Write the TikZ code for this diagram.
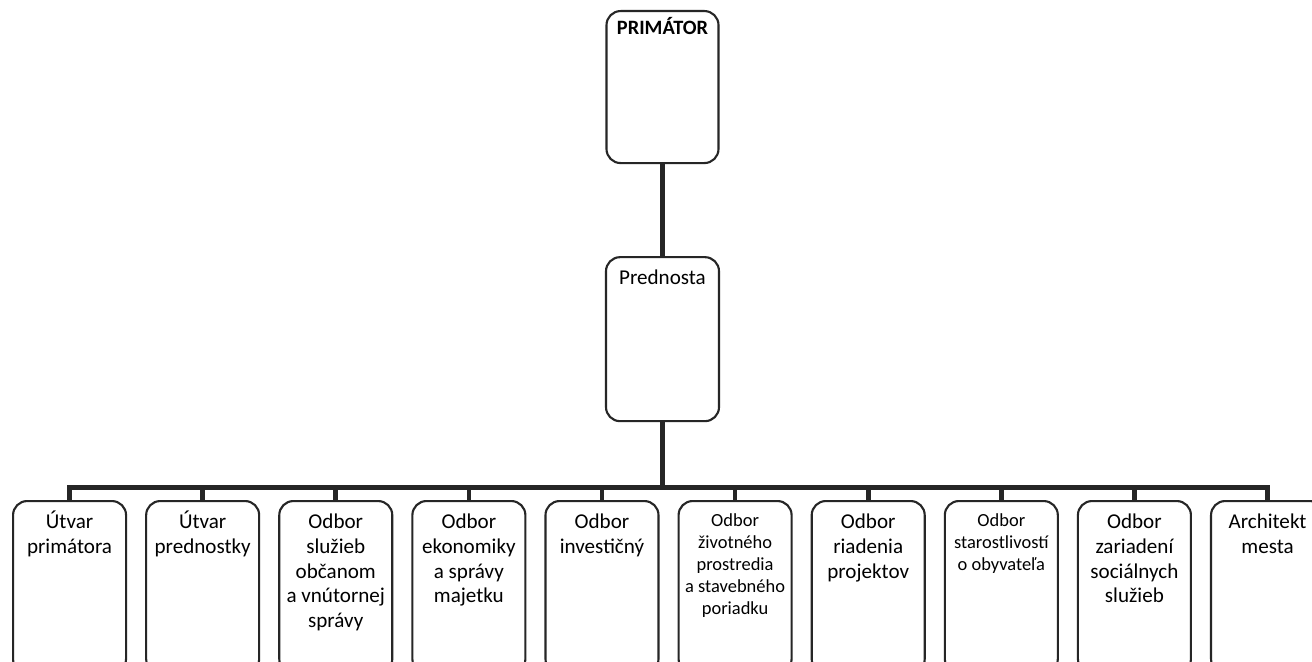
\documentclass[tikz,border=0pt]{standalone}
\usepackage{fontspec}
\setmainfont{Carlito}
\usetikzlibrary{positioning}
\tikzstyle{obox}=[rectangle, rounded corners=8pt, draw=black!85, fill=white, line width=1.2pt, inner sep=0pt, minimum width=22.6mm, minimum height=34.4mm]
\tikzstyle{hbox}=[rectangle, rounded corners=8pt, draw=black!85, fill=white, line width=1.2pt, inner sep=0pt, minimum width=22.4mm]
\tikzstyle{txt}=[below, inner sep=3pt, text width=24mm, align=flush center, font=\fontsize{12}{14.1}\selectfont, execute at begin node={\rule{0pt}{13pt}}]
\tikzstyle{stxt}=[below, inner sep=3pt, text width=24mm, align=flush center, font=\fontsize{10.5}{12.5}\selectfont, execute at begin node={\rule{0pt}{11.7pt}}]
\tikzstyle{pline}=[-, line width=2.6pt, black!85]

\begin{document}
\begin{tikzpicture}[node distance=3.6mm]
\path[use as bounding box, fill=white] (0,0) rectangle (26.24,-13.22);
\node (PRIM) [hbox, minimum height=30.4mm, anchor=north] at (13.25,-0.2) {};
\node (PRIMt) [below, inner sep=3pt, font=\fontsize{11.6}{13.5}\selectfont\bfseries] at (PRIM.north) {\rule{0pt}{10.6pt}PRIMÁTOR};
\node (PREDN) [hbox, minimum width=22.6mm, minimum height=32.8mm, below=18.4mm of PRIM] {};
\node (PREDNt) [txt] at (PREDN.north) {Prednosta};
\node (UPRIM) [obox, anchor=north west] at (0.24,-10.0) {};
\node (UPRIMt) [txt] at (UPRIM.north) {Útvar\\primátora};
\node (UPRED) [obox, right=of UPRIM] {};
\node (UPREDt) [txt] at (UPRED.north) {Útvar\\prednostky};
\node (OSOVS) [obox, right=of UPRED] {};
\node (OSOVSt) [txt] at (OSOVS.north) {Odbor\\služieb\\občanom\\a vnútornej\\správy};
\node (OESM) [obox, right=of OSOVS] {};
\node (OESMt) [txt] at (OESM.north) {Odbor\\ekonomiky\\a správy\\majetku};
\node (OINV) [obox, right=of OESM] {};
\node (OINVt) [txt] at (OINV.north) {Odbor\\investičný};
\node (OZPSP) [obox, right=of OINV] {};
\node (OZPSPt) [stxt] at (OZPSP.north) {Odbor\\životného\\prostredia\\a stavebného\\poriadku};
\node (ORP) [obox, right=of OZPSP] {};
\node (ORPt) [txt] at (ORP.north) {Odbor\\riadenia\\projektov};
\node (OSO) [obox, right=of ORP] {};
\node (OSOt) [stxt] at (OSO.north) {Odbor\\starostlivostí\\o obyvateľa};
\node (OZSS) [obox, right=of OSO] {};
\node (OZSSt) [txt] at (OZSS.north) {Odbor\\zariadení\\sociálnych\\služieb};
\node (ARCH) [obox, right=of OZSS] {};
\node (ARCHt) [txt] at (ARCH.north) {Architekt\\mesta};
 \draw[pline]   (PRIM.south) -- (PREDN.north) ;
 \draw[pline]   (PREDN.south) -- ++(0.0,-1.3) -| (UPRIM.north) ;
 \draw[pline]   (PREDN.south) -- ++(0.0,-1.3) -| (UPRED.north) ;
 \draw[pline]   (PREDN.south) -- ++(0.0,-1.3) -| (OSOVS.north) ;
 \draw[pline]   (PREDN.south) -- ++(0.0,-1.3) -| (OESM.north) ;
 \draw[pline]   (PREDN.south) -- ++(0.0,-1.3) -| (OINV.north) ;
 \draw[pline]   (PREDN.south) -- ++(0.0,-1.3) -| (OZPSP.north) ;
 \draw[pline]   (PREDN.south) -- ++(0.0,-1.3) -| (ORP.north) ;
 \draw[pline]   (PREDN.south) -- ++(0.0,-1.3) -| (OSO.north) ;
 \draw[pline]   (PREDN.south) -- ++(0.0,-1.3) -| (OZSS.north) ;
 \draw[pline]   (PREDN.south) -- ++(0.0,-1.3) -| (ARCH.north) ;
\end{tikzpicture}
\end{document}
